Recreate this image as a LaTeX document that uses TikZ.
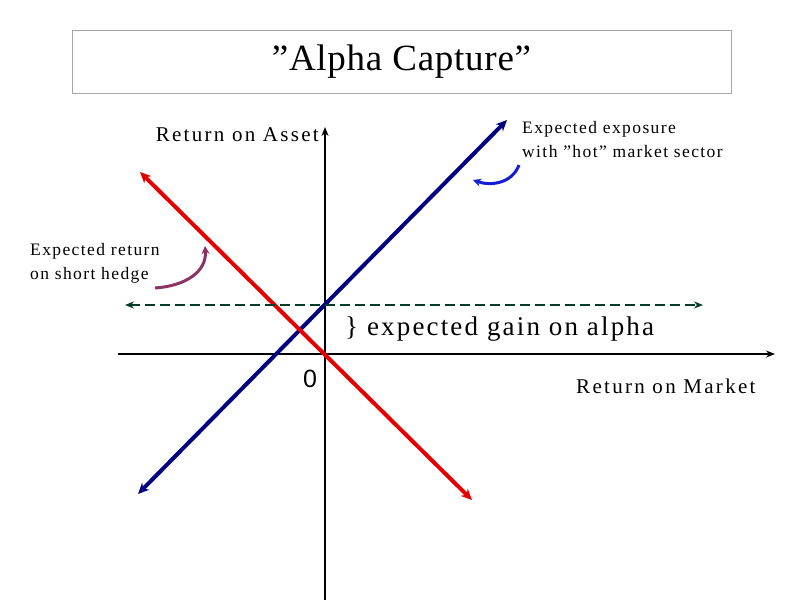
\documentclass[tikz,border=0pt]{standalone}
\usepackage{fontspec}
\setmainfont{Liberation Serif}
\newfontfamily\sansf{Liberation Sans}
\usetikzlibrary{arrows.meta}
\begin{document}
\begin{tikzpicture}[x=1pt,y=-1pt,
  axis/.style={line width=2pt,-{Stealth[length=9pt,width=7pt]}},
  bigline/.style={line width=4pt,{Stealth[length=11pt,width=10pt]}-{Stealth[length=11pt,width=10pt]}},
  lbl/.style={font=\fontsize{21}{24}\selectfont\addfontfeature{LetterSpace=11},inner sep=0pt},
  small/.style={font=\fontsize{17.5}{24.5}\selectfont\addfontfeature{LetterSpace=8},inner sep=0pt,align=left}]
\useasboundingbox (0,0) rectangle (792,612);
\node[draw=gray!70,minimum width=659pt,minimum height=63pt,font=\fontsize{37}{40}\selectfont\addfontfeature{LetterSpace=2}] (title) at (401.5,61.5) {\symbol{34}Alpha Capture\symbol{34}};
\coordinate (xl) at (118,354); \coordinate (xr) at (775,354);
\coordinate (yb) at (325,600); \coordinate (yt) at (325,127);
\draw[axis] (xl) -- (xr);
\draw[axis] (yb) -- (yt);
\coordinate (b1) at (138,494); \coordinate (b2) at (507,120);
\coordinate (r1) at (140,172); \coordinate (r2) at (472,500);
\draw[bigline,color={rgb,255:red,0;green,0;blue,128}] (b1) -- (b2);
\draw[bigline,color=red!90!black] (r1) -- (r2);
\coordinate (d1) at (125,305); \coordinate (d2) at (703,305);
\draw[line width=2pt,dash pattern=on 10pt off 5pt,color={rgb,255:red,0;green,60;blue,40},{Stealth[length=9pt,width=7pt]}-{Stealth[length=9pt,width=7pt]}] (d1) -- (d2);
\node[font=\sansf\fontsize{25}{28}\selectfont,inner sep=0pt] (zero) at (310,379) {0};
\node[lbl,anchor=east] (ra) at (319,135) {Return on Asset};
\node[lbl,anchor=west] (rm) at (576,386) {Return on Market};
\node[font=\fontsize{27}{30}\selectfont\addfontfeature{LetterSpace=8},inner sep=0pt,anchor=west] (gain) at (345,329) {\} expected gain on alpha};
\node[small,anchor=north west] (ee) at (522,121) {Expected exposure\\with \symbol{34}hot\symbol{34} market sector};
\node[small,anchor=north west] (er) at (30,243) {Expected return\\on short hedge};
\coordinate (c1) at (519,165); \coordinate (c2) at (473,180);
\draw[line width=3pt,color={rgb,255:red,20;green,30;blue,210},-{Stealth[length=8pt,width=8pt]}] (c1) .. controls (512,184) and (490,186) .. (c2);
\coordinate (p1) at (155,288); \coordinate (p2) at (205,246);
\draw[line width=3pt,color={rgb,255:red,140;green,50;blue,100},-{Stealth[length=8pt,width=8pt]}] (p1) .. controls (185,286) and (207,272) .. (p2);
\end{tikzpicture}
\end{document}
